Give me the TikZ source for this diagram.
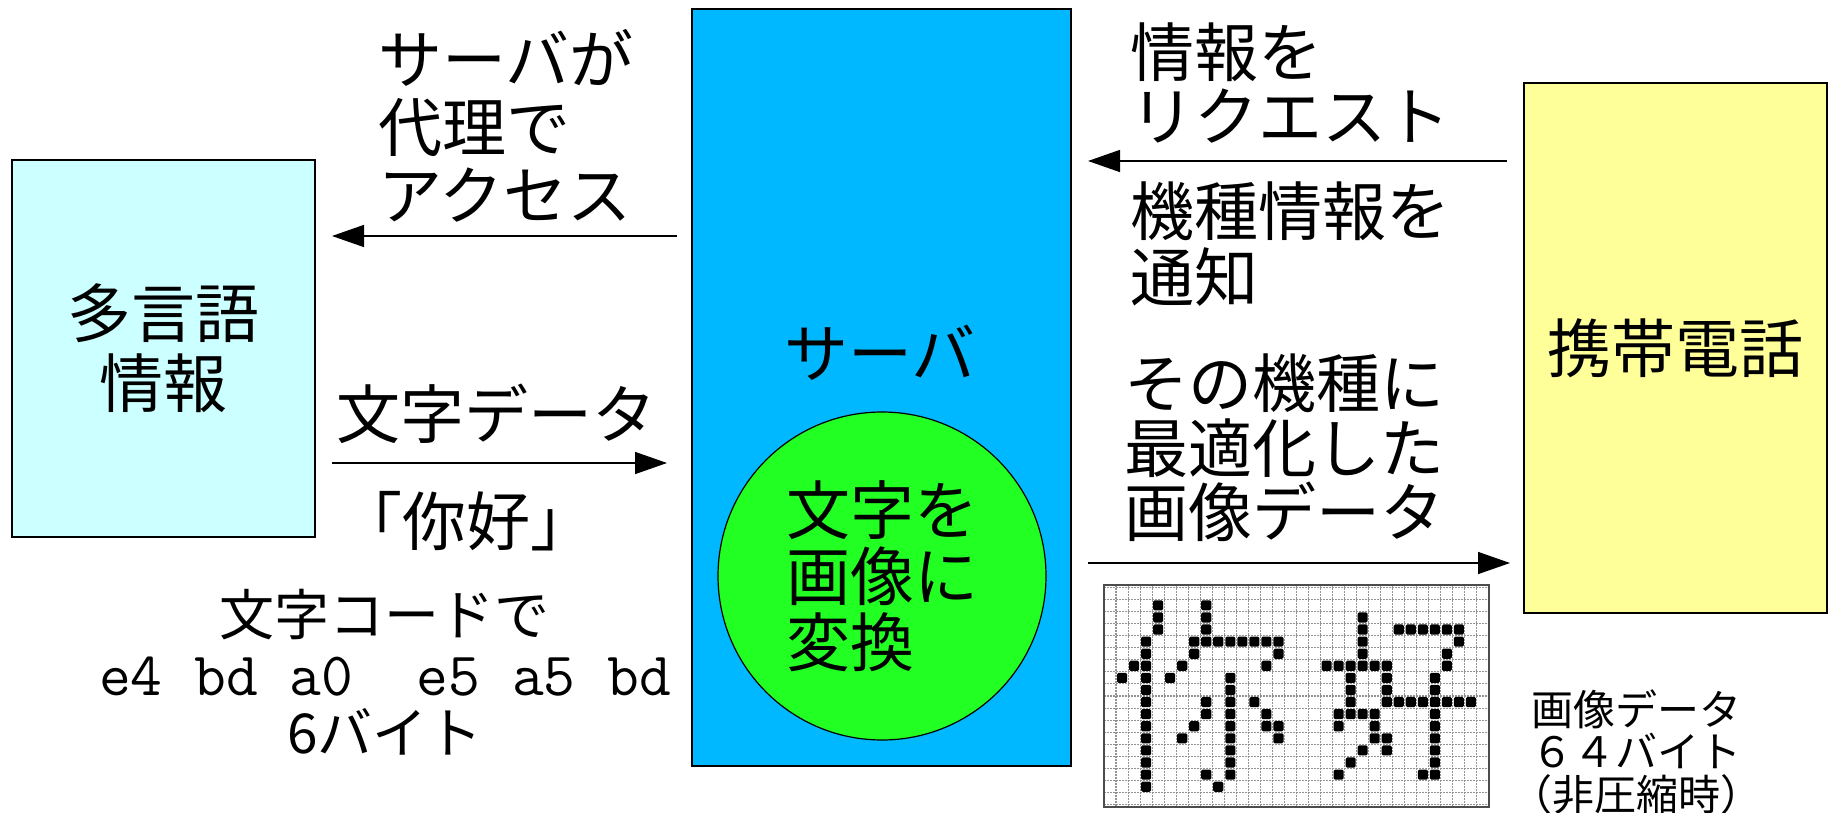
\documentclass[tikz,border=0pt]{standalone}
\usepackage{fontspec}
\setmainfont{Noto Sans CJK JP}
\usetikzlibrary{arrows.meta}
\definecolor{leftfill}{HTML}{CCFFFF}
\definecolor{serverfill}{HTML}{00B8FF}
\definecolor{circfill}{HTML}{22FF22}
\definecolor{phonefill}{HTML}{FFFF99}
\begin{document}
\begin{tikzpicture}[x=1pt,y=-1pt,
  box/.style={draw=black, line width=1.5pt},
  bigtxt/.style={font=\fontsize{64}{66}\selectfont, inner sep=0pt},
  midtxt/.style={font=\fontsize{55}{57}\selectfont, inner sep=0pt},
  smalltxt/.style={font=\fontsize{42}{42.5}\selectfont, inner sep=0pt},
  flow/.style={line width=1.5pt, -{Triangle[length=32pt,width=22pt]}},
  gridline/.style={gray!85, line width=1.1pt, dash pattern=on 2pt off 1pt},
  dot/.style={fill=black, rounded corners=1.5pt}]
\useasboundingbox (0,0) rectangle (1828,813);

% boxes
\node[box, fill=leftfill, minimum width=303pt, minimum height=377pt, bigtxt, align=center,
      font=\fontsize{64}{70}\selectfont] (multi) at (163.5,348.5) {多言語\\情報};
\node[box, fill=serverfill, minimum width=379pt, minimum height=757pt] (server) at (881.5,387.5) {};
\node[bigtxt] (serverlbl) at (880,353) {サーバ};
\node[circle, draw=black, line width=1.2pt, fill=circfill, minimum size=328pt, bigtxt, align=left,
      font=\fontsize{64}{66}\selectfont] (conv) at (882,576) {文字を\\画像に\\変換};
\node[box, fill=phonefill, minimum width=303pt, minimum height=530pt, bigtxt] (phone) at (1675.5,348) {携帯電話};

% labels
\node[bigtxt, align=left, anchor=west, font=\fontsize{64}{68}\selectfont] (proxy) at (378,126) {サーバが\\代理で\\アクセス};
\node[bigtxt, anchor=west] (chardata) at (336,414) {文字データ};
\node[bigtxt] (nihao) at (466,521) {「你好」};
\node[bigtxt, align=left, anchor=west, font=\fontsize{64}{64}\selectfont] (request) at (1130,83) {情報を\\リクエスト};
\node[bigtxt, align=left, anchor=west, font=\fontsize{64}{66}\selectfont] (notify) at (1130,244) {機種情報を\\通知};
\node[bigtxt, align=left, anchor=west, font=\fontsize{64}{64.5}\selectfont] (optimg) at (1124,448) {その機種に\\最適化した\\画像データ};

\node[midtxt] (codelbl) at (384,615) {文字コードで};
\node[inner sep=0pt, font=\ttfamily\fontsize{61.7}{63}\selectfont] (codes) at (385,677) {e4 bd a0\ \ e5 a5 bd};
\node[midtxt] (bytes6) at (385,732) {6バイト};
\node[smalltxt, align=center] (bytes64) at (1636,752) {画像データ\\６４バイト\\（非圧縮時）};

% arrows
\coordinate (a1s) at (677,236); \coordinate (a1e) at (332,236);
\coordinate (a2s) at (332,463); \coordinate (a2e) at (667,463);
\coordinate (a3s) at (1507,161); \coordinate (a3e) at (1088,161);
\coordinate (a4s) at (1088,563); \coordinate (a4e) at (1510,563);
\draw[flow] (a1s) -- (a1e);
\draw[flow] (a2s) -- (a2e);
\draw[flow] (a3s) -- (a3e);
\draw[flow] (a4s) -- (a4e);

% bitmap
\begin{scope}[shift={(1104,587.2)}, x=12.03pt, y=-12.09pt]
  \fill[white] (0,-0.18) rectangle (32,18.18);
  \foreach \ii in {0,...,32} \draw[gridline] (\ii,-0.18) -- (\ii,18.18);
  \foreach \jj in {0,...,18} \draw[gridline] (0,\jj) -- (32,\jj);
  \draw[gray!60!black, line width=1.5pt] (0,-0.18) rectangle (32,18.18);
  \foreach \cc/\rr in {4/1,4/2,4/3,8/1,8/2,8/3,
     3/4,7/4,8/4,9/4,10/4,11/4,12/4,13/4,14/4,
     3/5,7/5,14/5,
     2/6,3/6,6/6,13/6,
     1/7,3/7,5/7,10/7,
     3/8,10/8,
     3/9,8/9,10/9,12/9,
     3/10,8/10,10/10,13/10,
     3/11,7/11,10/11,13/11,14/11,
     3/12,6/12,10/12,14/12,
     3/13,10/13,
     3/14,10/14,
     3/15,8/15,10/15,
     3/16,9/16,
     21/2,21/3,21/4,21/5,
     24/3,25/3,26/3,27/3,28/3,29/3,
     29/4,
     28/5,
     18/6,19/6,20/6,21/6,22/6,23/6,28/6,
     20/7,23/7,27/7,
     20/8,23/8,27/8,
     20/9,23/9,24/9,25/9,26/9,27/9,28/9,29/9,30/9,
     19/10,20/10,21/10,22/10,27/10,
     19/11,22/11,27/11,
     22/12,23/12,27/12,
     21/13,23/13,27/13,
     20/14,27/14,
     19/15,26/15,27/15}
    \fill[dot] (\cc+0.08,\rr+0.08) rectangle (\cc+0.92,\rr+0.92);
\end{scope}
\end{tikzpicture}
\end{document}
